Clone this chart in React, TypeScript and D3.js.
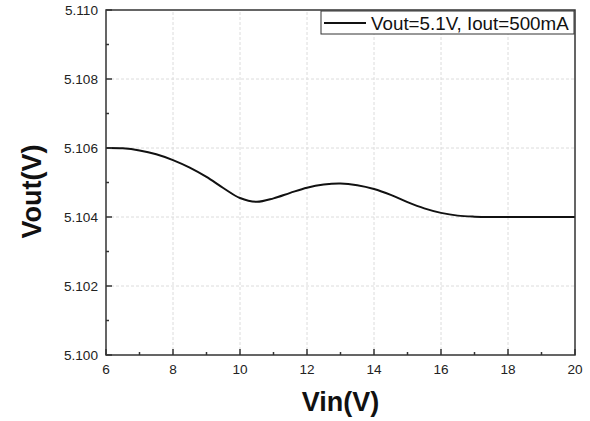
import React from 'react';
import * as d3 from 'd3';

const vin = [6, 6.5, 7, 7.5, 8, 8.5, 9, 9.5, 10, 10.5, 11, 11.5, 12, 12.5, 13, 13.5, 14, 14.5, 15, 15.5, 16, 16.5, 17, 17.5, 18, 18.5, 19, 19.5, 20];
const vout = [
  5.106, 5.10599, 5.10593, 5.10582, 5.10565, 5.10543, 5.10516, 5.10484, 5.10455, 5.10444,
  5.10454, 5.1047, 5.10485, 5.10494, 5.10497, 5.10492, 5.10481, 5.10464, 5.10443, 5.10425,
  5.10412, 5.10404, 5.10401, 5.104, 5.104, 5.104, 5.104, 5.104, 5.104,
];
const xTicks = [6, 8, 10, 12, 14, 16, 18, 20];
const yTicks = [5.1, 5.102, 5.104, 5.106, 5.108, 5.11];
const seriesLabel = 'Vout=5.1V, Iout=500mA';

const W = 590;
const H = 421;
const margin = { left: 106, right: 15, top: 10, bottom: 66 };

const App = () => {
  const x = d3.scaleLinear().domain([6, 20]).range([margin.left, W - margin.right]);
  const y = d3.scaleLinear().domain([5.1, 5.11]).range([H - margin.bottom, margin.top]);
  const [x0, x1] = x.range();
  const [y0, y1] = y.range();

  const line = d3
    .line<number>()
    .x((_, i) => x(vin[i]))
    .y((d) => y(d))
    .curve(d3.curveCatmullRom.alpha(0.5));

  const xMinor = d3.range(7, 20, 2);
  const yMinor = d3.range(5.101, 5.11, 0.002);
  const font = '"Liberation Sans", Arial, sans-serif';

  return (
    <svg
      width={W}
      height={H}
      style={{ position: 'absolute', left: 0, top: 0, background: '#fff' }}
    >
      {/* grid */}
      {xTicks.slice(1, -1).map((t) => (
        <line key={'gx' + t} x1={x(t)} x2={x(t)} y1={y0} y2={y1} stroke="#dcdcdc" strokeDasharray="3,2" />
      ))}
      {yTicks.slice(1, -1).map((t) => (
        <line key={'gy' + t} x1={x0} x2={x1} y1={y(t)} y2={y(t)} stroke="#dcdcdc" strokeDasharray="3,2" />
      ))}

      {/* data */}
      <path d={line(vout) || ''} fill="none" stroke="#111" strokeWidth={2} />

      {/* frame */}
      <rect x={x0} y={y1} width={x1 - x0} height={y0 - y1} fill="none" stroke="#333" strokeWidth={1.5} />

      {/* ticks */}
      {xTicks.map((t) => (
        <g key={'xt' + t}>
          <line x1={x(t)} x2={x(t)} y1={y0} y2={y0 - 6} stroke="#333" strokeWidth={1.5} />
          <text x={x(t)} y={y0 + 19} textAnchor="middle" fontSize={13.6} fontFamily={font} fill="#222">
            {t}
          </text>
        </g>
      ))}
      {xMinor.map((t) => (
        <line key={'xm' + t} x1={x(t)} x2={x(t)} y1={y0} y2={y0 - 3} stroke="#333" strokeWidth={1.5} />
      ))}
      {yTicks.map((t) => (
        <g key={'yt' + t}>
          <line x1={x0} x2={x0 + 6} y1={y(t)} y2={y(t)} stroke="#333" strokeWidth={1.5} />
          <text x={x0 - 8} y={y(t) + 5} textAnchor="end" fontSize={13.6} fontFamily={font} fill="#222">
            {d3.format('.3f')(t)}
          </text>
        </g>
      ))}
      {yMinor.map((t) => (
        <line key={'ym' + t} x1={x0} x2={x0 + 3} y1={y(t)} y2={y(t)} stroke="#333" strokeWidth={1.5} />
      ))}

      {/* axis titles */}
      <text x={(x0 + x1) / 2} y={411} textAnchor="middle" fontSize={27} fontWeight="bold" fontFamily={font} fill="#111">
        Vin(V)
      </text>
      <text
        transform={`translate(41, ${(y0 + y1) / 2 + 9}) rotate(-90)`}
        textAnchor="middle"
        fontSize={27}
        fontWeight="bold"
        fontFamily={font}
        fill="#111"
      >
        Vout(V)
      </text>

      {/* legend */}
      <rect x={321} y={11} width={253} height={23} fill="#fff" stroke="#333" strokeWidth={1} />
      <line x1={324} x2={366} y1={23} y2={23} stroke="#111" strokeWidth={2} />
      <text x={371} y={29.5} fontSize={18.8} fontFamily={font} fill="#111">
        {seriesLabel}
      </text>
    </svg>
  );
};

export default App;
